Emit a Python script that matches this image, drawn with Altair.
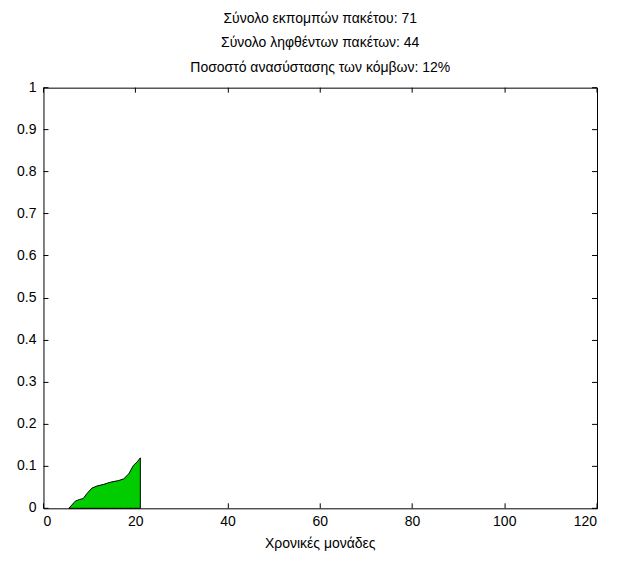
import altair as alt
import pandas as pd

title_lines = [
    "Σύνολο εκπομπών πακέτου: 71",
    "Σύνολο ληφθέντων πακέτων: 44",
    "Ποσοστό ανασύστασης των κόμβων: 12%",
]
x_title = "Χρονικές μονάδες"

t = [5.5, 6.9, 7.8, 8.6, 9.5, 10.5, 11.6, 13.1, 14.5, 16.3, 17.4, 18.5, 19.5, 20.3, 21.0]
ratio = [0.0, 0.017, 0.021, 0.023, 0.036, 0.048, 0.053, 0.057, 0.062, 0.066, 0.070, 0.082, 0.102, 0.110, 0.120]
x_ticks = [0, 20, 40, 60, 80, 100, 120]
y_ticks = [0, 0.1, 0.2, 0.3, 0.4, 0.5, 0.6, 0.7, 0.8, 0.9, 1]

df = pd.DataFrame({"t": t, "r": ratio})

FONT = "Liberation Sans"

xs = alt.Scale(domain=[0, 120], nice=False, zero=False)
ys = alt.Scale(domain=[0, 1], nice=False)

area = alt.Chart(df).mark_area(
    color="#00cc00", stroke="black", strokeWidth=1, line=False
).encode(
    x=alt.X("t:Q", scale=xs, title=x_title,
            axis=alt.Axis(orient="bottom", values=x_ticks, offset=-5, tickSize=5,
                          domain=False, labelPadding=7, grid=False, translate=0,
                          labelFontSize=14, titleFontSize=14, titleFontWeight="normal",
                          labelFont=FONT, titleFont=FONT, titlePadding=8,
                          labelColor="black", titleColor="black", tickColor="black",
                          format="d")),
    y=alt.Y("r:Q", scale=ys, title=None,
            axis=alt.Axis(orient="left", values=y_ticks, offset=-5, tickSize=5,
                          domain=False, labelPadding=7, grid=False, translate=0,
                          labelFontSize=14, labelFont=FONT, labelColor="black",
                          tickColor="black", format="~g")),
)

opp = alt.Chart(df).mark_area(opacity=0).encode(
    x=alt.X("t:Q", scale=xs, title=None,
            axis=alt.Axis(orient="top", values=x_ticks, offset=-5, tickSize=5, translate=0,
                          domain=False, labels=False, grid=False, tickColor="black")),
    y=alt.Y("r:Q", scale=ys, title=None,
            axis=alt.Axis(orient="right", values=y_ticks, offset=-5, tickSize=5, translate=0,
                          domain=False, labels=False, grid=False, tickColor="black")),
)

chart = alt.layer(area, opp).resolve_axis(x="independent", y="independent").properties(
    width=554,
    height=421,
    padding={"left": 35.5, "top": 79.5, "right": 16, "bottom": 50},
    autosize=alt.AutoSizeParams(type="none"),
    background="white",
    title=alt.TitleParams(text=title_lines, fontSize=14, fontWeight="normal", font=FONT,
                          lineHeight=24.5, offset=6, anchor="middle", color="black"),
).configure_view(stroke="black", strokeWidth=1)

chart.save("out.html", embed_options={"renderer": "svg", "actions": False})
